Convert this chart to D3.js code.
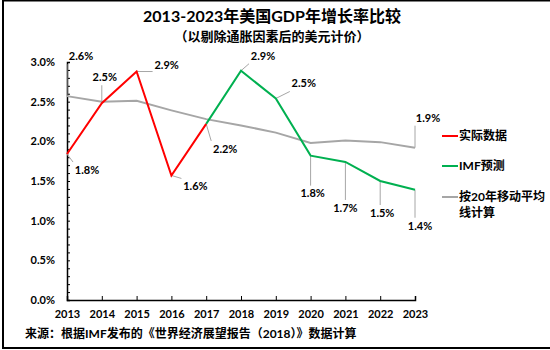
<!DOCTYPE html>
<html lang="zh">
<head>
    <meta charset="UTF-8">
    <title>2013-2023年美国GDP年增长率比较</title>
    <script src="https://d3js.org/d3.v7.min.js"></script>
    <style>
        body { margin: 0; background: #fff; }
        svg { display: block; font-family: Lato, "Noto Sans CJK SC", sans-serif; font-weight: bold; }
    </style>
</head>
<body>
<script>
    const width  = 550;
    const height = 350;

    // data
    const years      = [2013, 2014, 2015, 2016, 2017, 2018, 2019, 2020, 2021, 2022, 2023];
    const actual     = [1.84, 2.48, 2.88, 1.57, 2.22];                 // 2013-2017
    const imf        = [2.22, 2.89, 2.54, 1.82, 1.74, 1.50, 1.39];     // 2017-2023
    const movingAvg  = [2.57, 2.50, 2.51, 2.39, 2.28, 2.20, 2.11, 1.98, 2.01, 1.99, 1.92];
    const yTicks     = [0, 0.5, 1.0, 1.5, 2.0, 2.5, 3.0];
    const seriesNames = ["实际数据", "IMF预测", "按20年移动平均线计算"];

    // label placement (offset of label centre from point, px)
    const actualLabelOffsets = [[20, 16], [3, -26], [30, -6], [24, 11], [19, 25]];
    const imfLabelOffsets    = [null, [22, -15], [28, -15], [2, 38], [0, 46], [2, 32], [5, 36]];
    const avgLabelOffsets    = {0: [14, -40], 10: [13, -30]};

    const x = d3.scaleLinear().domain([2013, 2023]).range([67, 415]);
    const y = d3.scaleLinear().domain([0, 3]).range([300, 62]);

    const svg = d3.select("body").append("svg").attr("width", width).attr("height", height);

    // frame
    svg.append("rect")
       .attr("x", 3).attr("y", 0.5).attr("width", 600).attr("height", 347.5)
       .attr("fill", "none").attr("stroke", "#000").attr("stroke-width", 2);

    // titles
    svg.append("text").attr("x", 272).attr("y", 22).attr("text-anchor", "middle")
       .attr("font-size", 16).text("2013-2023年美国GDP年增长率比较");
    svg.append("text").attr("x", 272).attr("y", 41).attr("text-anchor", "middle")
       .attr("font-size", 13).text("（以剔除通胀因素后的美元计价）");

    // y axis
    const yAxis = d3.axisLeft(y).tickValues(d3.range(0, 3.01, 0.1)).tickSize(-3).tickFormat("");
    const gy = svg.append("g").attr("transform", "translate(67,0)").call(yAxis);
    gy.select(".domain").attr("stroke-width", 1.5);
    gy.selectAll(".tick line").attr("stroke-width", 1);
    svg.selectAll("text.ylab").data(yTicks).join("text").attr("class", "ylab")
       .attr("x", 55).attr("y", d => y(d)).attr("dy", "0.35em")
       .attr("text-anchor", "end").attr("font-size", 11)
       .text(d => d.toFixed(1) + "%");

    // x axis
    const xAxis = d3.axisBottom(x).tickValues(years).tickSize(-4).tickFormat(d3.format("d"));
    const gx = svg.append("g").attr("transform", "translate(0,300)").call(xAxis);
    gx.select(".domain").attr("stroke-width", 1.5);
    gx.selectAll(".tick line").attr("stroke-width", 1);
    gx.selectAll(".tick text").attr("y", 10).attr("font-size", 11)
      .attr("font-family", 'Lato, "Noto Sans CJK SC", sans-serif').attr("fill", "#000");

    const line = d3.line().x(d => x(d[0])).y(d => y(d[1]));
    const avgPts    = years.map((yr, i) => [yr, movingAvg[i]]);
    const actualPts = actual.map((v, i) => [years[i], v]);
    const imfPts    = imf.map((v, i) => [years[4 + i], v]);

    // leader lines + labels
    const labels = [];
    actualPts.forEach((p, i) => labels.push({p, off: actualLabelOffsets[i]}));
    imfPts.forEach((p, i) => { if (imfLabelOffsets[i]) labels.push({p, off: imfLabelOffsets[i]}); });
    Object.keys(avgLabelOffsets).forEach(k => labels.push({p: avgPts[k], off: avgLabelOffsets[k]}));

    const fmt = d3.format(".1f");
    labels.forEach(l => {
        const px = x(l.p[0]), py = y(l.p[1]);
        const cx = px + l.off[0], cy = py + l.off[1];
        const hw = 14, hh = 8;
        const ex = Math.max(cx - hw, Math.min(px, cx + hw));
        const ey = Math.max(cy - hh, Math.min(py, cy + hh));
        l.leader = [[px, py], [ex, ey]];
        l.cx = cx; l.cy = cy;
    });

    svg.selectAll("path.leader").data(labels).join("path").attr("class", "leader")
       .attr("d", d => d3.line()(d.leader))
       .attr("fill", "none").attr("stroke", "#a6a6a6").attr("stroke-width", 1);

    svg.append("path").datum(avgPts).attr("d", line)
       .attr("fill", "none").attr("stroke", "#a6a6a6").attr("stroke-width", 2);
    svg.append("path").datum(actualPts).attr("d", line)
       .attr("fill", "none").attr("stroke", "#ff0000").attr("stroke-width", 2);
    svg.append("path").datum(imfPts).attr("d", line)
       .attr("fill", "none").attr("stroke", "#00b050").attr("stroke-width", 2);

    svg.selectAll("text.dlab").data(labels).join("text").attr("class", "dlab")
       .attr("x", d => d.cx).attr("y", d => d.cy).attr("dy", "0.35em")
       .attr("text-anchor", "middle").attr("font-size", 11)
       .text(d => fmt(d.p[1]) + "%");

    // legend
    const legendColors = ["#ff0000", "#00b050", "#a6a6a6"];
    const legendY = [136, 166, 197];
    const lg = svg.selectAll("g.legend").data(seriesNames).join("g").attr("class", "legend")
       .attr("transform", (d, i) => `translate(442,${legendY[i]})`);
    lg.append("line").attr("x1", 0).attr("x2", 16)
      .attr("stroke", (d, i) => legendColors[i]).attr("stroke-width", 2);
    lg.append("text").attr("x", 17).attr("dy", "0.35em").attr("font-size", 12)
      .each(function(d) {
          const t = d3.select(this);
          if (d.length > 8) {
              t.append("tspan").attr("x", 17).text(d.slice(0, 8));
              t.append("tspan").attr("x", 17).attr("dy", "1.35em").text(d.slice(8));
          } else {
              t.text(d);
          }
      });

    // source
    svg.append("text").attr("x", 25).attr("y", 338).attr("font-size", 12)
       .text("来源：根据IMF发布的《世界经济展望报告（2018）》数据计算");
</script>
</body>
</html>
